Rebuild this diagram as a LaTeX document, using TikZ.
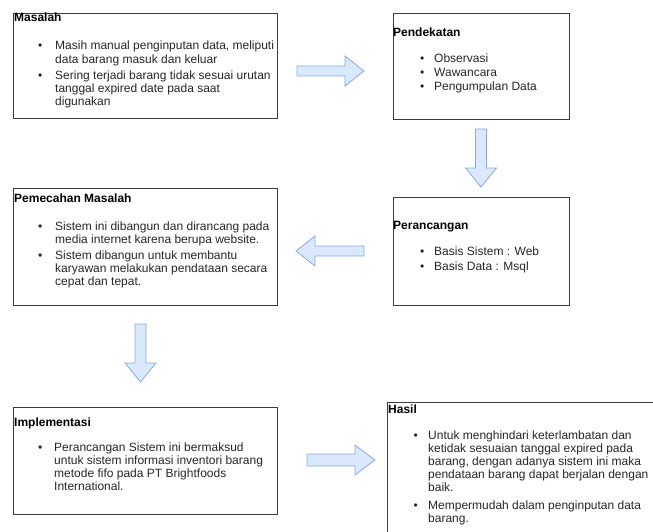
\documentclass[tikz,border=0pt]{standalone}
\usepackage{fontspec}
\setmainfont{Liberation Sans}
\definecolor{arrowfill}{HTML}{DAE8FC}
\definecolor{arrowline}{HTML}{8AAAE0}
\definecolor{frame}{HTML}{3C3C3C}
\definecolor{bodytext}{HTML}{262626}
% bullet hung to the left of an item's first line
\newcommand\itembullet[1]{\llap{\textbullet\hspace{#1}}}
\begin{document}
\begin{tikzpicture}[x=1pt,y=-1pt,
  panel/.style={draw=frame, line width=1pt, inner sep=0pt, anchor=north west},
  heading/.style={font=\fontsize{12}{13.2}\selectfont\bfseries, text=black, inner sep=0pt, anchor=base west},
  % multi-line items: the base anchor sits on the baseline of the last line
  entry/.style={font=\fontsize{12}{13.2}\selectfont, text=bodytext, inner sep=0pt, anchor=base west, align=left},
  flow/.style={draw=arrowline, fill=arrowfill, line width=0.8pt, line join=miter}
]
\useasboundingbox (0,0) rectangle (653,532);
\clip (0,0) rectangle (653,532);

% ---------- Masalah ----------
\node[panel, minimum width=264pt, minimum height=105pt] (masalah) at (13,13) {};
\node[heading] (masalahT) at (14,22) {Masalah};
\node[entry] (masalah1) at (55,63.2) {\itembullet{12.9pt}Masih manual penginputan data, meliputi\\data barang masuk dan keluar};
\node[entry] (masalah2) at (55,105.4) {\itembullet{12.9pt}Sering terjadi barang tidak sesuai urutan\\tanggal expired date pada saat\\digunakan};

% ---------- Pendekatan ----------
\node[panel, minimum width=176pt, minimum height=106pt] (pendekatan) at (393,13) {};
\node[heading] (pendekatanT) at (393,37) {Pendekatan};
\node[entry] (pendekatan1) at (434,63) {\itembullet{9.9pt}Observasi};
\node[entry] (pendekatan2) at (434,77) {\itembullet{9.9pt}Wawancara};
\node[entry] (pendekatan3) at (434,91) {\itembullet{9.9pt}Pengumpulan Data};

% ---------- Perancangan ----------
\node[panel, minimum width=176pt, minimum height=108pt] (perancangan) at (393,197) {};
\node[heading] (perancanganT) at (393,229) {Perancangan};
\node[entry] (perancangan1) at (434,255) {\itembullet{9.9pt}Basis Sistem : Web};
\node[entry] (perancangan2) at (434,270) {\itembullet{9.9pt}Basis Data : Msql};

% ---------- Pemecahan Masalah ----------
\node[panel, minimum width=264pt, minimum height=117pt] (pemecahan) at (13,188) {};
\node[heading] (pemecahanT) at (14,202) {Pemecahan Masalah};
\node[entry] (pemecahan1) at (55,243.2) {\itembullet{12.9pt}Sistem ini dibangun dan dirancang pada\\media internet karena berupa website.};
\node[entry] (pemecahan2) at (55,285.4) {\itembullet{12.9pt}Sistem dibangun untuk membantu\\karyawan melakukan pendataan secara\\cepat dan tepat.};

% ---------- Implementasi ----------
\node[panel, minimum width=264pt, minimum height=107pt] (implementasi) at (13,407) {};
\node[heading] (implementasiT) at (14,426) {Implementasi};
\node[entry] (implementasi1) at (54,490.6) {\itembullet{11.9pt}Perancangan Sistem ini bermaksud\\untuk sistem informasi inventori barang\\metode fifo pada PT Brightfoods\\International.};

% ---------- Hasil ----------
\node[panel, minimum width=280pt, minimum height=140pt] (hasil) at (387,402) {};
\node[heading] (hasilT) at (388,413) {Hasil};
\node[entry] (hasil1) at (428,491.8) {\itembullet{10.4pt}Untuk menghindari keterlambatan dan\\ketidak sesuaian tanggal expired pada\\barang, dengan adanya sistem ini maka\\pendataan barang dapat berjalan dengan\\baik.};
\node[entry] (hasil2) at (428,522.2) {\itembullet{10.4pt}Mempermudah dalam penginputan data\\barang.};

% ---------- block arrows between the stages ----------
\draw[flow] (297,66) -- (345,66) -- (345,56) -- (364,71) -- (345,86) -- (345,76) -- (297,76) -- cycle;
\draw[flow] (475.5,129) -- (475.5,168) -- (465.5,168) -- (481,187) -- (496.5,168) -- (486.5,168) -- (486.5,129) -- cycle;
\draw[flow] (364,246) -- (315,246) -- (315,236) -- (296,251) -- (315,266) -- (315,256) -- (364,256) -- cycle;
\draw[flow] (135,324) -- (135,363) -- (125,363) -- (140.5,382) -- (156,363) -- (146,363) -- (146,324) -- cycle;
\draw[flow] (307,454) -- (355,454) -- (355,445) -- (375,460) -- (355,475) -- (355,466) -- (307,466) -- cycle;
\end{tikzpicture}
\end{document}
